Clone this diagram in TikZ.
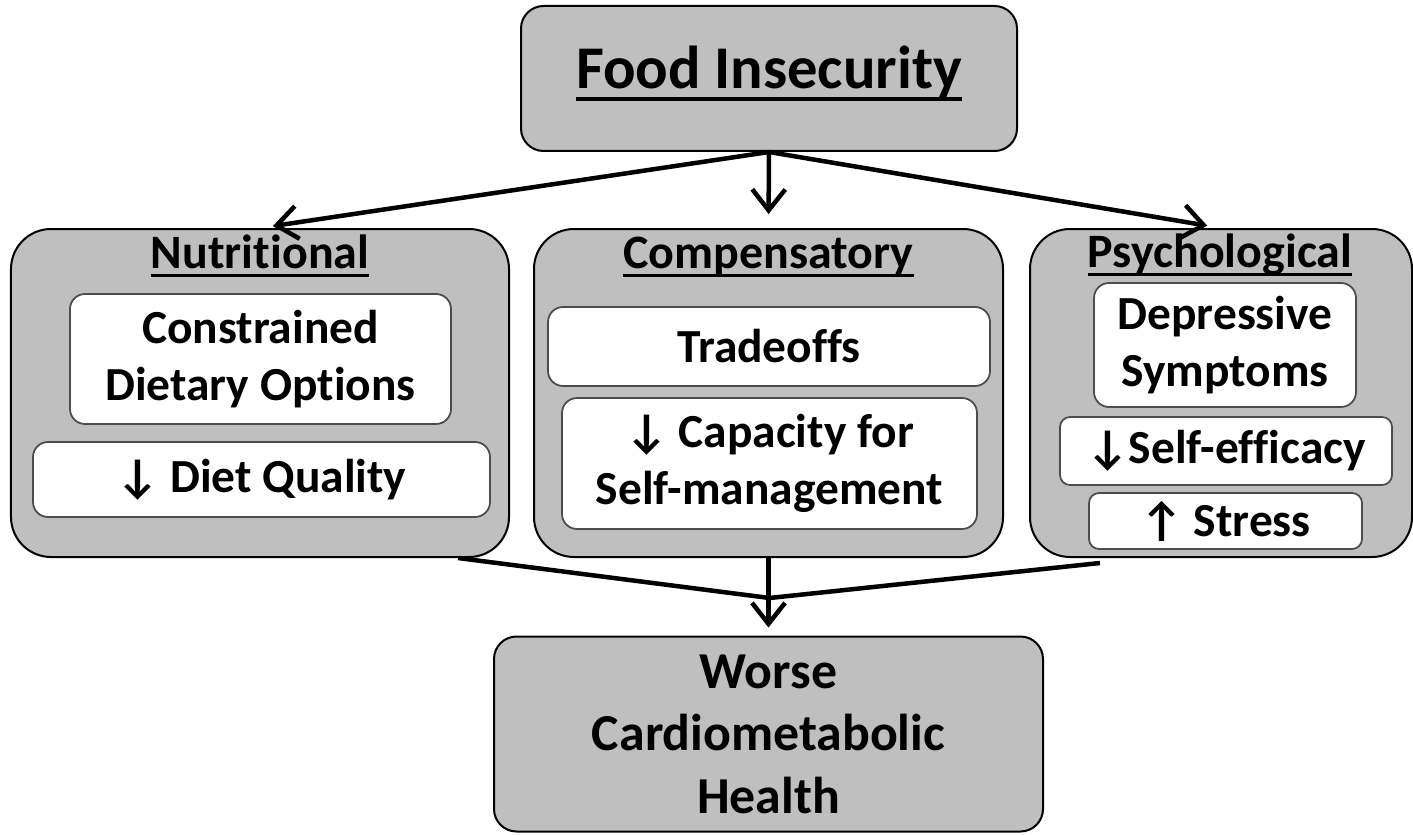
\documentclass[tikz,border=0pt]{standalone}
\usepackage{fontspec}
\setmainfont{Carlito}[Ligatures=NoCommon]
\usetikzlibrary{arrows.meta}

\definecolor{boxgray}{gray}{0.75}
\definecolor{edgegray}{gray}{0.3}
\newcommand{\undr}[1]{\setbox0\hbox{#1}\rlap{\rule[-0.19em]{\wd0}{0.055em}}\box0}

\tikzset{
  endbox/.style={draw=black, fill=boxgray, line width=0.04cm, rounded corners=0.45cm, inner sep=0pt},
  groupbox/.style={draw=black, fill=boxgray, line width=0.04cm, rounded corners=0.8cm, inner sep=0pt},
  itembox/.style={draw=edgegray, fill=white, line width=0.035cm, rounded corners=0.3cm, inner sep=0pt,
    align=center, font=\fontsize{27}{32.4}\selectfont\bfseries},
  headtext/.style={inner sep=0pt, anchor=base, font=\fontsize{27.3}{30}\selectfont\bfseries},
  link/.style={line width=0.09cm},
}

\begin{document}
\begin{tikzpicture}[>={Straight Barb[length=0.42cm,width=0.66cm]}]
        \useasboundingbox (0,0) rectangle (28.26,16.7) ;
        % top and bottom
        \node[endbox, minimum width=9.92cm, minimum height=2.9cm,
          font=\fontsize{34.5}{40}\selectfont\bfseries] (food) at (15.38,15.13) {\raisebox{-0.21cm}[0pt][0pt]{\undr{Food Insecurity}}} ;
        \node[endbox, minimum width=10.98cm, minimum height=3.9cm, align=center,
          font=\fontsize{29.5}{35.6}\selectfont\bfseries] (health) at (15.37,2.02) {Worse\\Cardiometabolic\\Health} ;
        % nutritional
        \node[groupbox, minimum width=9.96cm, minimum height=6.56cm] (nutri) at (5.20,8.84) {} ;
        \node[headtext] (nutri-head) at (5.20,11.34) {\undr{Nutritional}} ;
        \node[itembox, minimum width=7.62cm, minimum height=2.6cm] (options) at (5.21,9.52) {Constrained\\Dietary Options} ;
        \node[itembox, minimum width=9.14cm, minimum height=1.5cm] (quality) at (5.23,7.11) {↓ Diet Quality} ;
        % compensatory
        \node[groupbox, minimum width=9.38cm, minimum height=6.56cm] (comp) at (15.37,8.84) {} ;
        \node[headtext] (comp-head) at (15.37,11.34) {\undr{Compensatory}} ;
        \node[itembox, minimum width=8.84cm, minimum height=1.58cm] (tradeoffs) at (15.38,9.77) {Tradeoffs} ;
        \node[itembox, minimum width=8.3cm, minimum height=2.62cm] (capacity) at (15.39,7.43) {↓ Capacity for\\Self-management} ;
        % psychological
        \node[groupbox, minimum width=7.64cm, minimum height=6.56cm] (psych) at (24.42,8.84) {} ;
        \node[headtext] (psych-head) at (24.40,11.36) {\undr{Psychological}} ;
        \node[itembox, minimum width=5.24cm, minimum height=2.48cm] (depress) at (24.50,9.80) {Depressive\\Symptoms} ;
        \node[itembox, minimum width=6.64cm, minimum height=1.36cm, rounded corners=0.2cm] (efficacy) at (24.52,7.68) {↓Self-efficacy} ;
        \node[itembox, minimum width=5.46cm, minimum height=1.12cm, rounded corners=0.2cm] (stress) at (24.51,6.28) {↑ Stress} ;
        % arrows
        \draw[->,link,shorten >=0.26cm] (food.south) -- (nutri.north) ;
        \draw[->,link,shorten >=0.28cm] (food.south) -- (comp.north) ;
        \draw[->,link,shorten >=0.28cm] (food.south) -- (psych.north) ;
        \coordinate (join) at (15.39,4.74) ;
        \draw[link] ([xshift=-1.04cm]nutri.south east) -- (join) -- ([xshift=1.42cm,yshift=-0.1cm]psych.south west) ;
        \draw[->,link,shorten >=0.16cm] (comp.south) -- (health.north) ;
      \end{tikzpicture}
\end{document}
